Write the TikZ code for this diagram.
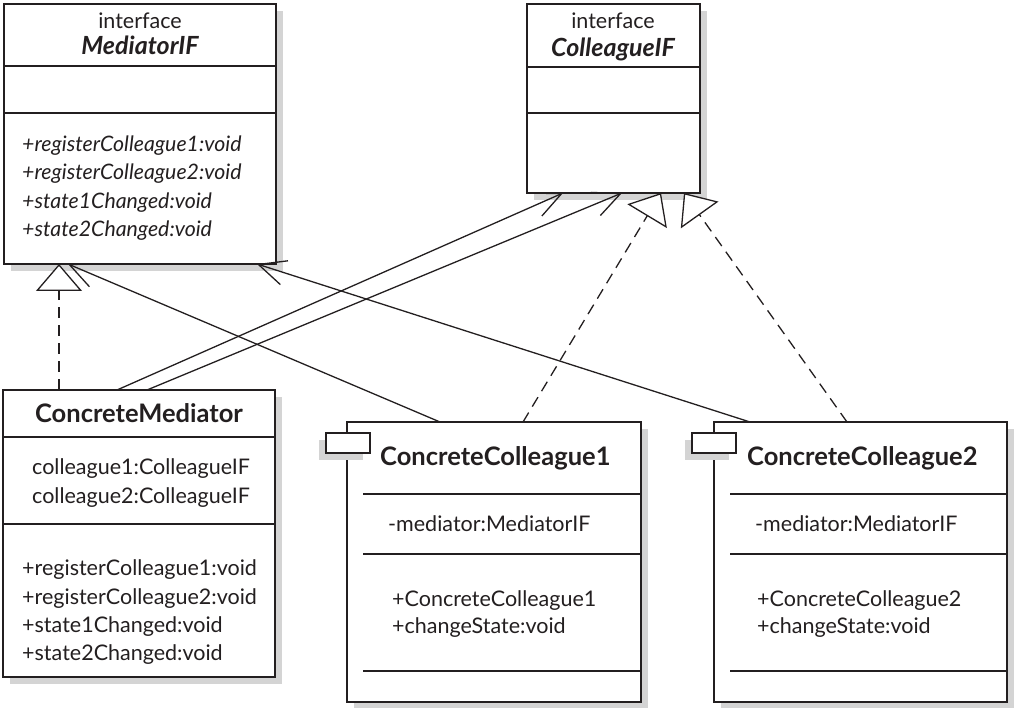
\documentclass[tikz,border=0pt]{standalone}
\usepackage{fontspec}
\setmainfont{Lato}
\usetikzlibrary{arrows.meta,calc,shadows}
\definecolor{shd}{RGB}{212,212,212}
\definecolor{ink}{RGB}{35,31,32}
\begin{document}
\begin{tikzpicture}[x=1pt,y=-1pt,
  every node/.style={text=ink},
  box/.style={draw=ink, line width=2.6pt, fill=white, anchor=north west, inner sep=0pt, outer sep=0pt,
    drop shadow={shadow xshift=7pt, shadow yshift=-7pt, fill=shd, opacity=1}},
  tab/.style={draw=ink, line width=2pt, fill=white, anchor=north west, inner sep=0pt, outer sep=0pt,
    minimum width=44pt, minimum height=20pt,
    drop shadow={shadow xshift=-7pt, shadow yshift=-7pt, fill=shd, opacity=1}},
  divider/.style={draw=ink, line width=1.8pt},
  txt/.style={inner sep=0pt, yshift=-4pt, text height=1.45ex, text depth=0.3ex, font=\fontsize{21.5}{24}\selectfont},
  ltxt/.style={txt, anchor=west},
  itxt/.style={ltxt, font=\fontsize{21.3}{24}\selectfont\itshape},
  bitxt/.style={txt, font=\fontsize{25}{28}\selectfont\bfseries\itshape},
  ttl/.style={inner sep=0pt, yshift=-5pt, text height=1.45ex, text depth=0.3ex, font=\fontsize{25.5}{28}\selectfont\bfseries},
  conn/.style={draw=ink, line width=1.3pt},
  assoc/.style={conn, -{Straight Barb[length=27pt, width=25pt, line width=1.3pt]}},
  real/.style={conn, dash pattern=on 11pt off 7pt, -{Triangle[open, length=27pt, width=46pt, line width=1.3pt, fill=white]}}
]
\useasboundingbox (0,0) rectangle (1018,708);

% boxes
\node[box, minimum width=272pt, minimum height=260pt] (mif) at (4,4) {};
\node[box, minimum width=173pt, minimum height=189pt] (cif) at (527,4) {};
\node[box, minimum width=272pt, minimum height=287pt] (cm) at (3,390) {};
\node[box, minimum width=294pt, minimum height=280pt] (cc1) at (347,422) {};
\node[box, minimum width=293pt, minimum height=280pt] (cc2) at (714,422) {};

% tabs
\node[tab] (tab1) at (326,433) {};
\node[tab] (tab2) at (692,433) {};

% dividers
\draw[divider] ($(mif.north west)+(0,62)$) -- ($(mif.north east)+(0,62)$);
\draw[divider] ($(mif.north west)+(0,109)$) -- ($(mif.north east)+(0,109)$);
\draw[divider] ($(cif.north west)+(0,63)$) -- ($(cif.north east)+(0,63)$);
\draw[divider] ($(cif.north west)+(0,109)$) -- ($(cif.north east)+(0,109)$);
\draw[divider] ($(cm.north west)+(0,47)$) -- ($(cm.north east)+(0,47)$);
\draw[divider] ($(cm.north west)+(0,134)$) -- ($(cm.north east)+(0,134)$);
\foreach \n in {cc1,cc2}{
  \draw[divider] ($(\n.north west)+(16,72)$) -- ($(\n.north east)+(0,72)$);
  \draw[divider] ($(\n.north west)+(16,132)$) -- ($(\n.north east)+(0,132)$);
  \draw[divider] ($(\n.north west)+(16,249)$) -- ($(\n.north east)+(0,249)$);
}

% MediatorIF texts
\node[txt] (mifk) at (140,22) {interface};
\node[bitxt] (mifn) at (140,48) {MediatorIF};
\node[itxt] (mifm1) at (22,145) {+registerColleague1:void};
\node[itxt] (mifm2) at (22,173) {+registerColleague2:void};
\node[itxt] (mifm3) at (22,202) {+state1Changed:void};
\node[itxt] (mifm4) at (22,230) {+state2Changed:void};

% ColleagueIF texts
\node[txt] (cifk) at (613,22) {interface};
\node[bitxt] (cifn) at (613,50) {ColleagueIF};

% ConcreteMediator texts
\node[ttl] (cmn) at (139,415) {ConcreteMediator};
\node[ltxt] (cma1) at (32,468) {colleague1:ColleagueIF};
\node[ltxt] (cma2) at (32,497) {colleague2:ColleagueIF};
\node[ltxt] (cmm1) at (22,569) {+registerColleague1:void};
\node[ltxt] (cmm2) at (22,598) {+registerColleague2:void};
\node[ltxt] (cmm3) at (22,626) {+state1Changed:void};
\node[ltxt] (cmm4) at (22,654) {+state2Changed:void};

% ConcreteColleague1 texts
\node[ttl, anchor=west] (cc1n) at (380,458) {ConcreteColleague1};
\node[ltxt] (cc1a) at (388,525) {-mediator:MediatorIF};
\node[ltxt] (cc1m1) at (392,600) {+ConcreteColleague1};
\node[ltxt] (cc1m2) at (392,627) {+changeState:void};

% ConcreteColleague2 texts
\node[ttl, anchor=west] (cc2n) at (747,458) {ConcreteColleague2};
\node[ltxt] (cc2a) at (755,525) {-mediator:MediatorIF};
\node[ltxt] (cc2m1) at (757,600) {+ConcreteColleague2};
\node[ltxt] (cc2m2) at (757,627) {+changeState:void};

% connectors
\draw[real] ($(cm.north west)+(56,0)$) -- ($(mif.south west)+(55,0)$);
\draw[assoc] ($(cc1.north west)+(93,0)$) -- ($(mif.south west)+(64,0)$);
\draw[assoc] ($(cc2.north west)+(36,0)$) -- ($(mif.south west)+(253,0)$);
\draw[assoc] ($(cm.north west)+(114,0)$) -- ($(cif.south west)+(36,0)$);
\draw[assoc] ($(cm.north west)+(144,0)$) -- ($(cif.south west)+(95,0)$);
\draw[real] ($(cc1.north west)+(176,0)$) -- ($(cif.south west)+(134,0)$);
\draw[real] ($(cc2.north west)+(133,0)$) -- ($(cif.south west)+(157,0)$);
\end{tikzpicture}
\end{document}
